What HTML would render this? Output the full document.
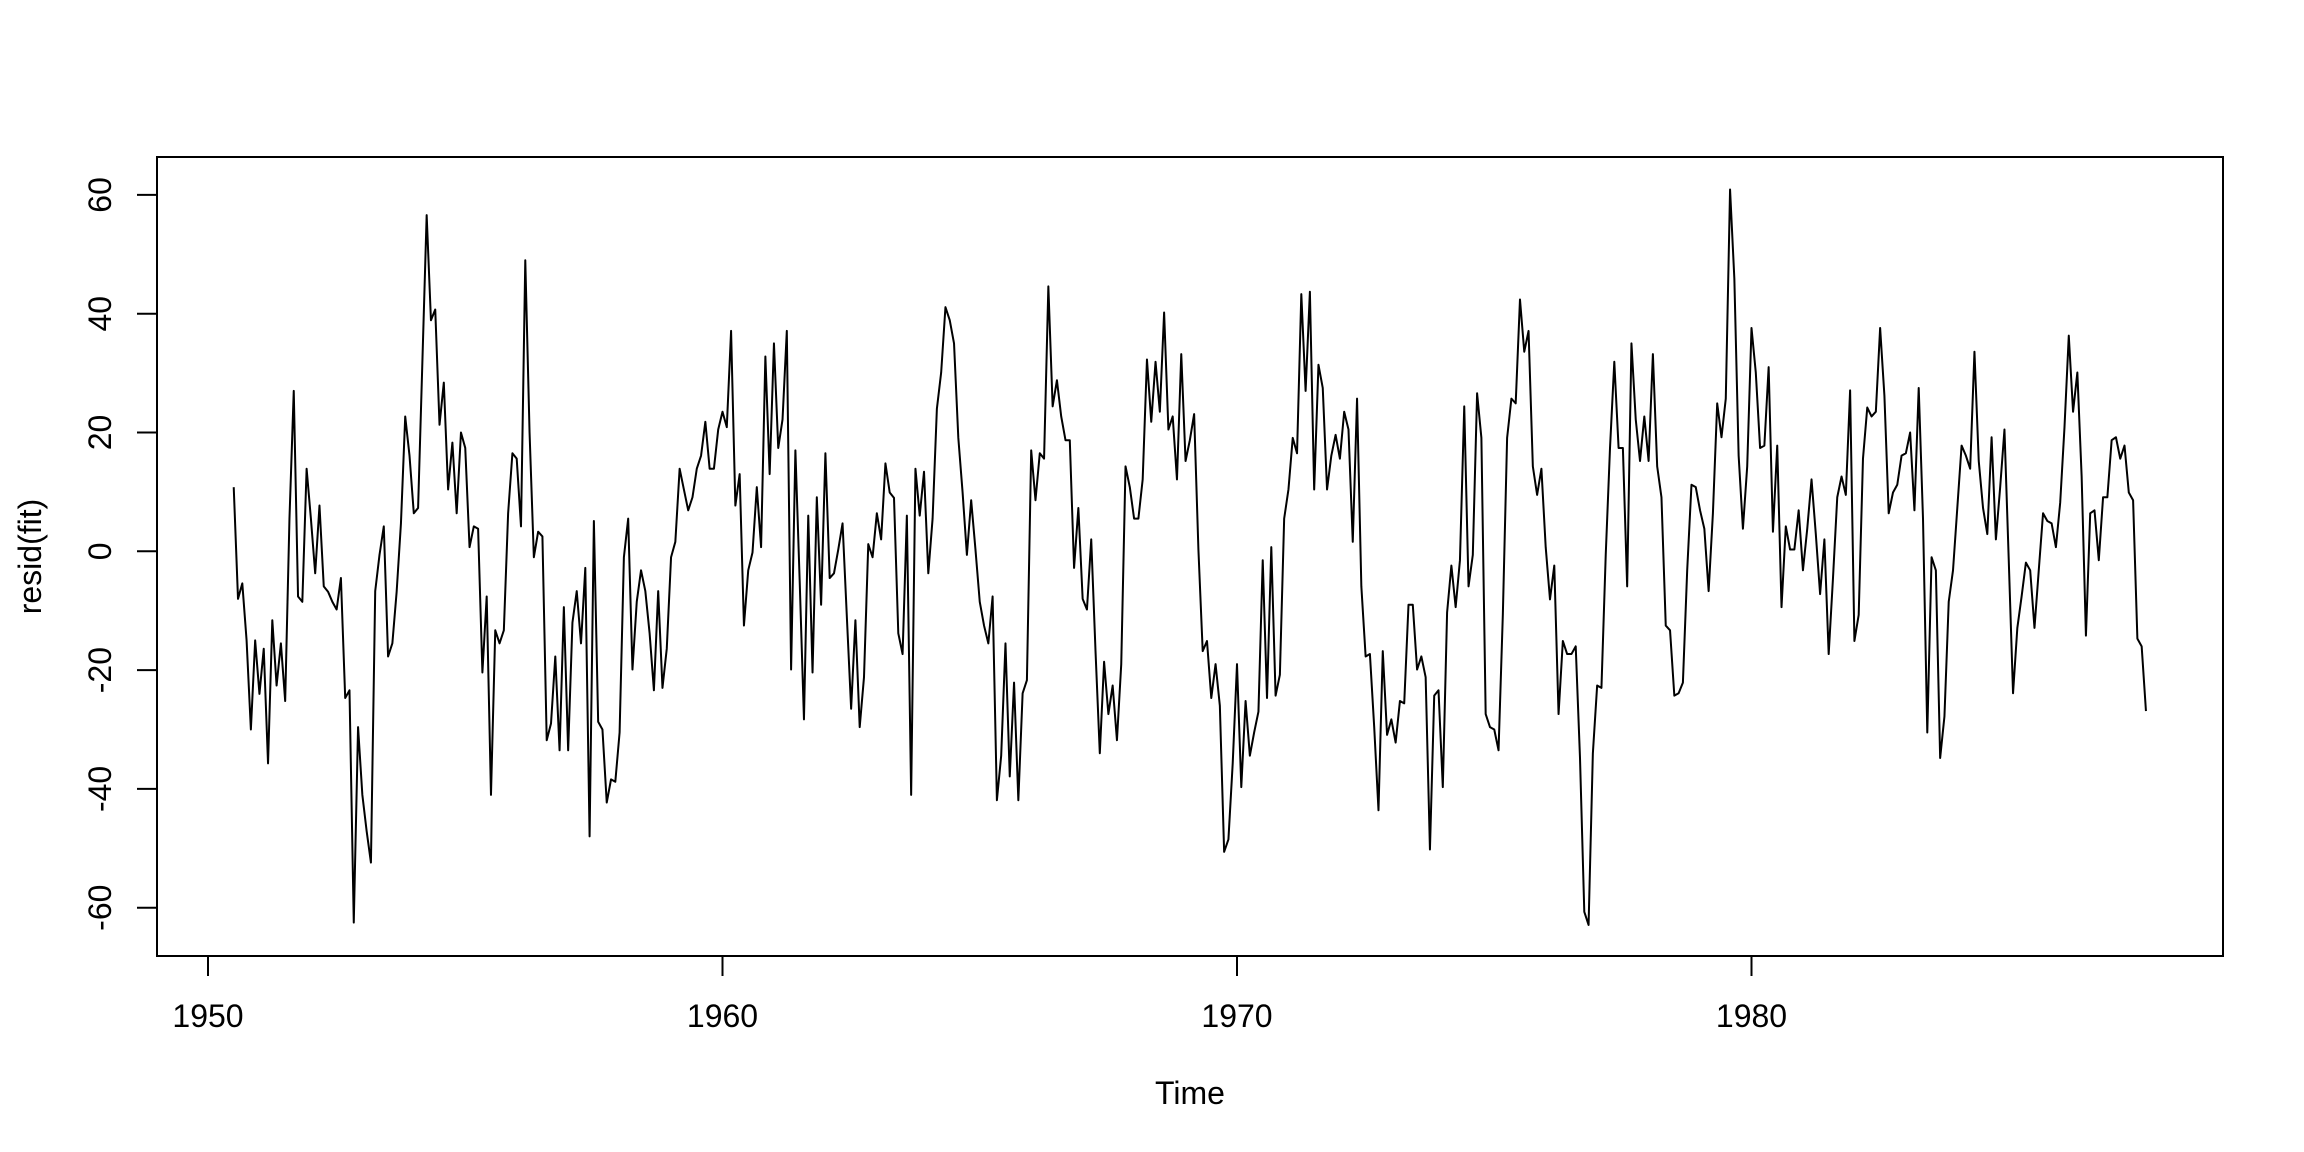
<!DOCTYPE html>
<html><head><meta charset="utf-8"><style>
html,body{margin:0;padding:0;background:#fff;}
svg{display:block;font-family:"Liberation Sans",Arial,sans-serif;}
</style></head><body>
<svg id="chart" width="2304" height="1152" viewBox="0 0 2304 1152" xmlns="http://www.w3.org/2000/svg">
<rect x="0" y="0" width="2304" height="1152" fill="#fff"/>
<g id="plot"></g>
</svg>
<script>
const startYear = 1950.5;
const frequency = 12;
const xTicks = [1950, 1960, 1970, 1980];
const yTicks = [-60, -40, -20, 0, 20, 40, 60];
const residuals = [
10.8,-8,-5.4,-15,-30,-15,-24,-16.4,-35.7,-11.6,-22.6,-15.5,-25.2,5.5,27,
-7.6,-8.5,13.9,5.5,-3.7,7.7,-5.9,-6.8,-8.5,-9.8,-4.5,-24.7,-23.4,-62.5,-29.6,-41,-47.1,-52.4,-6.7,-0.6,4.2,-17.7,-15.5,
-6.8,4.7,22.7,16.1,6.4,7.3,31.9,56.6,38.9,40.7,21.3,28.4,10.4,18.3,6.4,20,17.4,0.7,4.2,3.8,-20.4,-7.6,-41,-13.3,-15.5,-13.3,6.4,16.5,15.6,4.2,49,
20,
-1,3.3,2.5,-31.8,-29,-17.7,-33.5,-9.4,-33.5,-12,
-6.7,-15.5,-2.8,-48,5.1,-28.7,-30,-42.3,-38.4,-38.8,
-30.5,-1,5.5,-19.9,-8.5,-3.2,-6.7,-13.8,-23.4,-6.7,
-23,-16.4,-1,1.6,13.9,10.4,6.9,9.1,13.9,16.1,
21.8,13.9,13.9,20.5,23.5,20.9,37.1,7.7,13,-12.5,
-3.2,-0.2,10.8,0.7,32.8,13,35,17.4,22.2,37.1,
-19.9,17,-5,-28.3,6,-20.4,9.1,-9,16.5,-4.5,
-3.7,0.3,4.7,
-11,-26.5,-11.6,-29.6,-21.2,1.2,-1,6.4,2,14.8,
9.9,9,-13.8,-17.3,6,-41,13.9,6,13.4,-3.7,
5.5,24,30.1,41.1,38.9,35,19.1,9.9,-0.6,8.6,
0.3,-8.5,-12.5,-15.5,-7.6,-41.9,-34.4,-15.5,-37.9,-22.1,
-41.9,-23.9,-21.7,17,8.6,16.5,15.6,44.6,24.4,28.8,
22.7,18.7,18.7,-2.8,7.3,-8,-9.8,2,-16.8,-34,
-18.6,-27.4,-22.6,-31.8,-19,14.3,10.8,5.5,5.5,12.1,
32.3,21.8,31.9,23.5,40.2,20.5,
22.7,12.1,33.2,15.2,18.7,23.1,0.3,
-16.8,-15.1,-24.7,-19,-26,-50.6,-48.5,-35.7,-19,-39.7,
-25.2,-34.4,-30.5,-27,-1.5,-24.7,0.7,-24.3,-20.8,5.5,
10.4,19.1,16.5,43.3,27,43.7,10.4,31.4,27.5,10.4,
16.1,19.6,15.6,23.5,20.5,1.6,25.7,-5.9,-17.7,-17.3,
-29.6,-43.6,-16.8,-30.9,-28.3,-32.2,-25.2,-25.6,-9,-9,
-19.9,-17.7,-21.2,-50.2,-24.3,-23.4,-39.7,-10.3,-2.4,-9.4,
-1.5,24.4,-5.9,-0.6,26.6,19.1,-27.4,-29.6,-30,-33.5,
-10.7,19.1,
25.7,24.9,42.4,33.6,37.1,14.3,9.5,13.9,0.7,
-8.1,-2.4,-27.4,-15.1,-17.3,-17.3,-16,-34.8,-60.7,-62.9,
-34,-22.6,-23,-0.6,17.4,31.9,17.4,17.4,-5.9,35,
22.2,15.2,22.7,15.2,33.2,14.3,9.1,-12.5,-13.3,-24.3,
-23.9,-22.1,-3.2,11.2,10.8,6.9,3.8,-6.7,6.4,24.9,
19.2,25.7,60.9,45.9,16.1,3.8,14.3,37.6,30.1,17.4,
17.8,31,3.3,17.8,-9.4,4.2,0.3,0.3,6.9,-3.2,
3.8,12.1,2.9,-7.2,2,-17.3,-4.6,9.1,12.6,9.5,
27.1,
-15.1,-10.7,15.6,24.2,22.7,23.5,37.6,26.2,6.4,9.9,
11.2,16.1,16.5,20,6.9,27.5,5.5,-30.5,-1,-3.2,
-34.8,-27.8,-8.5,-3.2,7.3,17.8,16.1,13.9,33.6,15.2,
7.3,2.9,19.2,2,10.8,20.5,-1.5,-23.9,-12.9,-7.6,
-1.9,-3.2,-12.9,-3.2,6.4,5.1,4.7,0.7,8.2,20.9,
36.3,23.5,30.1,12.6,-14.2,6.4,6.9,-1.5,9.1,9.1,
18.7,19.2,15.6,17.8,9.9,8.6,-14.7,-16,-26.9
];

const NS = "http://www.w3.org/2000/svg";
const plot = document.getElementById('plot');
const box = {left:157, right:2223, top:157, bottom:956};
function xScale(t){ return 208 + (t - 1950) * 51.45; }
function yScale(v){ return 551.3 - v * 5.94; }
function mk(tag, attrs){ const e = document.createElementNS(NS, tag); for (const k in attrs) e.setAttribute(k, attrs[k]); return e; }

// series line
let d = '';
residuals.forEach((v, i) => {
  const t = startYear + i / frequency;
  d += (i ? 'L' : 'M') + xScale(t).toFixed(2) + ' ' + yScale(v).toFixed(2);
});
const line = mk('path', {d: d, fill: 'none', stroke: '#000', 'stroke-width': 2, 'stroke-linejoin': 'round'});


plot.appendChild(line);

// box
const frame = mk('rect', {x: box.left, y: box.top, width: box.right - box.left, height: box.bottom - box.top, fill: 'none', stroke: '#000', 'stroke-width': 2});


plot.appendChild(frame);

// x ticks
xTicks.forEach(t => {
  const x = xScale(t);
  const tk = mk('line', {x1: x, y1: box.bottom, x2: x, y2: box.bottom + 20, stroke: '#000', 'stroke-width': 2});
  
  
  plot.appendChild(tk);
  const lb = mk('text', {x: x, y: 1027, 'font-size': 32, 'text-anchor': 'middle', fill: '#000'});
  lb.textContent = t;
  
  
  plot.appendChild(lb);
});

// y ticks
yTicks.forEach(v => {
  const y = yScale(v);
  const tk = mk('line', {x1: box.left, y1: y, x2: box.left - 20, y2: y, stroke: '#000', 'stroke-width': 2});
  
  
  plot.appendChild(tk);
  const lb = mk('text', {x: 0, y: 0, 'font-size': 32, 'text-anchor': 'middle', fill: '#000', transform: 'translate(111,' + y + ') rotate(-90)'});
  lb.textContent = v;
  
  
  plot.appendChild(lb);
});

// axis titles
const xt = mk('text', {x: (box.left + box.right) / 2, y: 1104, 'font-size': 32, 'text-anchor': 'middle', fill: '#000'});
xt.textContent = 'Time';


plot.appendChild(xt);
const yt = mk('text', {x: 0, y: 0, 'font-size': 32, 'text-anchor': 'middle', fill: '#000', transform: 'translate(41,' + ((box.top + box.bottom) / 2) + ') rotate(-90)'});
yt.textContent = 'resid(fit)';


plot.appendChild(yt);
</script>
</body></html>
